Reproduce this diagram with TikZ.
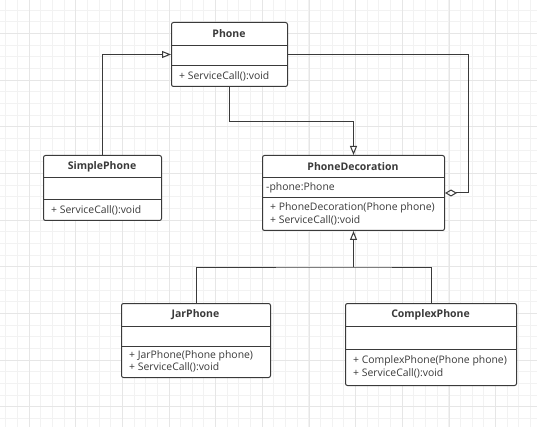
\documentclass[tikz,border=0pt]{standalone}
\usepackage{fontspec}
\setmainfont{Open Sans}
\usetikzlibrary{arrows.meta,calc}
\definecolor{UmlLine}{HTML}{3A3A3A}
\definecolor{GridMinor}{HTML}{F2F2F2}
\definecolor{GridMajor}{HTML}{E6E6E6}
\tikzset{classbox/.style={draw=UmlLine,line width=1pt,rounded corners=2pt,fill=white,anchor=north west,inner sep=0pt},
classtitle/.style={font=\fontsize{10.5}{12}\selectfont\bfseries,text=UmlLine},
member/.style={font=\fontsize{10.4}{12.5}\selectfont,text=UmlLine,align=left,anchor=west,inner sep=0pt},
link/.style={draw=UmlLine,line width=1pt},
inherit/.style={link,-{Triangle[open,length=9pt,width=7pt]}},
aggr/.style={link,-{Diamond[open,length=12pt,width=7pt]}}}

\begin{document}
\begin{tikzpicture}[x=1pt,y=-1pt]
\useasboundingbox[fill=white] (0,0) rectangle (537,427);
% background grid
\foreach \g in {5.67,17.33,...,537} \draw[GridMinor,line width=.8pt] (\g,0) -- (\g,427);
\foreach \g in {10,21.67,...,427} \draw[GridMinor,line width=.8pt] (0,\g) -- (537,\g);
\foreach \g in {29,75.67,...,537} \draw[GridMajor,line width=.8pt] (\g,0) -- (\g,427);
\foreach \g in {33.33,80,...,427} \draw[GridMajor,line width=.8pt] (0,\g) -- (537,\g);
% classes: name/x/y/width/height/header/attributes/title/operations
\foreach \nm/\x/\y/\w/\h/\da/\db/\ttl/\ops in {
phone/171/22/116/64/24/44/Phone/{+ ServiceCall():void},
simplephone/43/155/118/65/23/45/SimplePhone/{+ ServiceCall():void},
decoration/262/155/182/75/23/43/PhoneDecoration/{+ PhoneDecoration(Phone phone)\\+ ServiceCall():void},
jarphone/121/303/149/74/23/43/JarPhone/{+ JarPhone(Phone phone)\\+ ServiceCall():void},
complexphone/345/303/171/82/23/46/ComplexPhone/{+ ComplexPhone(Phone phone)\\+ ServiceCall():void}}{
\node[classbox,minimum width=\w pt,minimum height=\h pt] (\nm) at (\x,\y) {};
\draw[link] (\x,\y+\da) -- (\x+\w,\y+\da) (\x,\y+\db) -- (\x+\w,\y+\db);
\node[classtitle] (\nm-title) at (\x+\w/2,\y+\da/2) {\ttl};
\node[member] (\nm-ops) at (\x+8,\y+\db/2+\h/2) {\ops};
}
\node[member] (decoration-attr) at (266,188) {-phone:Phone};
% relations
\draw[inherit] (simplephone.north) |- (phone.west);
\draw[inherit] (phone.south) -- ++(0,35) -| (decoration.north);
\draw[aggr] (phone.east) -| ($(decoration.east)+(23,0)$) -- (decoration.east);
\coordinate (join) at ($(decoration.south)+(0,36)$);
\draw[link] (jarphone.north) |- (join) -| (complexphone.north);
\draw[inherit] (join) -- (decoration.south);
\end{tikzpicture}
\end{document}
